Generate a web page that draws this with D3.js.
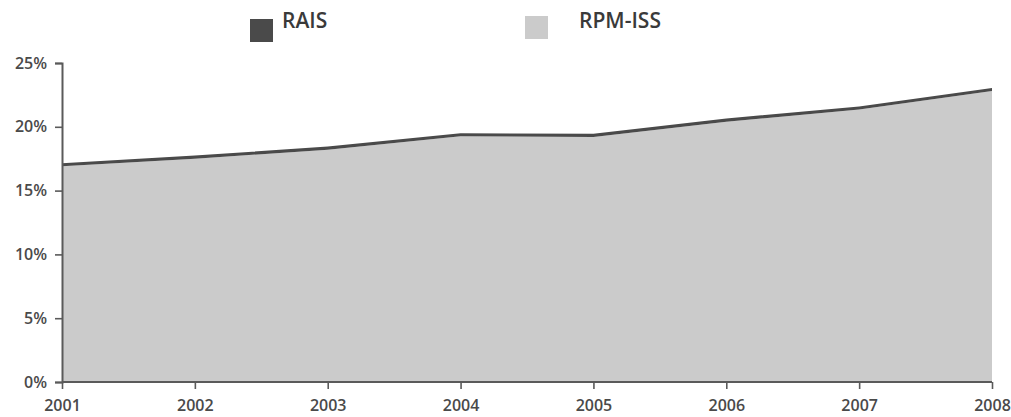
<!DOCTYPE html>
<html>
<head>
<meta charset="utf-8">
<script src="https://cdn.jsdelivr.net/npm/d3@7"></script>
<style>
  html, body { margin: 0; padding: 0; background: #fff; }
  svg { display: block; }
  text { font-family: "Open Sans", "DejaVu Sans", sans-serif; }
</style>
</head>
<body>
<svg id="chart" width="1011" height="417"></svg>
<script>
// Years on the horizontal axis
const years = [2001, 2002, 2003, 2004, 2005, 2006, 2007, 2008];
// Share (%) per source, stacked: RPM-ISS at the bottom, RAIS on top
const rpmIss = [16.9, 17.5, 18.2, 19.25, 19.2, 20.4, 21.35, 22.8];
const rais   = [0.25, 0.25, 0.25, 0.25, 0.25, 0.25, 0.25, 0.25];
const yTicks = [0, 5, 10, 15, 20, 25];
const seriesKeys = ["RPM-ISS", "RAIS"];
const seriesColors = { "RPM-ISS": "#cbcbcb", "RAIS": "#4a4a4a" };

const rows = years.map((yr, i) => ({ year: yr, "RPM-ISS": rpmIss[i], "RAIS": rais[i] }));

const svg = d3.select("#chart");
const x = d3.scaleLinear().domain([2001, 2008]).range([62, 992]);
const y = d3.scaleLinear().domain([0, 25]).range([382, 63]);

const stacked = d3.stack().keys(seriesKeys)(rows);

const area = d3.area()
  .x(d => x(d.data.year))
  .y0(d => y(d[0]))
  .y1(d => y(d[1]));

svg.append("g")
  .selectAll("path")
  .data(stacked)
  .join("path")
  .attr("fill", d => seriesColors[d.key])
  .attr("d", area);

// Y axis
const yAxis = svg.append("g")
  .attr("transform", "translate(62,0)")
  .call(d3.axisLeft(y).tickValues(yTicks).tickFormat(d => d + "%").tickSize(7).tickPadding(8));
// X axis
const xAxis = svg.append("g")
  .attr("transform", "translate(0,382)")
  .call(d3.axisBottom(x).tickValues(years).tickFormat(d3.format("d")).tickSize(7).tickPadding(11));

[yAxis, xAxis].forEach(g => {
  g.select(".domain").attr("stroke", "#5a5a5a").attr("stroke-width", 2);
  g.selectAll(".tick line").attr("stroke", "#5a5a5a").attr("stroke-width", 1.6);
  g.selectAll(".tick text")
    .attr("fill", "#4a4a4a")
    .attr("font-size", 16)
    .attr("font-weight", 600)
    .style("font-family", "'Open Sans', sans-serif");
});
xAxis.select(".domain").attr("d", "M62,0H992");

// Legend
const legend = [
  { key: "RAIS", sx: 250, sy: 19, tx: 282, ty: 28 },
  { key: "RPM-ISS", sx: 525, sy: 16, tx: 579, ty: 28 }
];
const lg = svg.append("g");
lg.selectAll("rect")
  .data(legend)
  .join("rect")
  .attr("x", d => d.sx)
  .attr("y", d => d.sy)
  .attr("width", 23)
  .attr("height", 23)
  .attr("fill", d => seriesColors[d.key]);
lg.selectAll("text")
  .data(legend)
  .join("text")
  .attr("x", d => d.tx)
  .attr("y", d => d.ty)
  .attr("font-size", 21)
  .attr("font-weight", 600)
  .attr("fill", "#3a3a3a")
  .text(d => d.key);
</script>
</body>
</html>
